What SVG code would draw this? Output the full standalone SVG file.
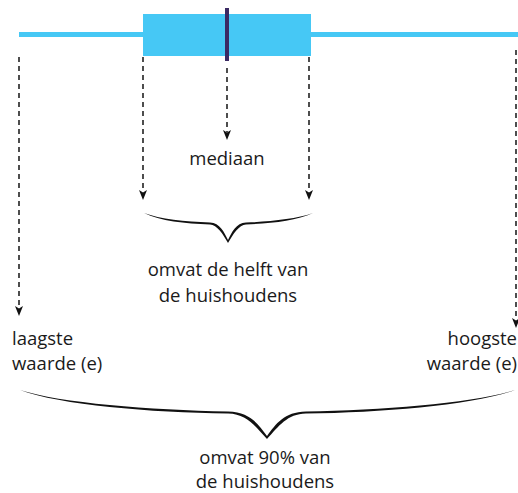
<svg xmlns="http://www.w3.org/2000/svg" width="518" height="493" viewBox="0 0 518 493">
<style>
.t{font-family:"Open Sans","Noto Sans",sans-serif;font-size:18.5px;fill:#1a1a1a}
.d{stroke:#222;stroke-width:1.6;stroke-dasharray:5 4;fill:none}
.ah{fill:#111}
.br{fill:#111}
</style>
<defs>
<path id="arr" d="M-4,-10 L0,-7.5 L4,-10 L0,0 Z"/>
</defs>
<g id="boxplot">
<rect x="19" y="32" width="499" height="5" fill="#46c8f5"/>
<rect x="143" y="14" width="168" height="42" fill="#46c8f5"/>
<rect x="225" y="8" width="4" height="53" fill="#3b2a63"/>
</g>
<g id="connectors">
<line class="d" x1="19" y1="57" x2="19" y2="308"/>
<use href="#arr" class="ah" x="19" y="316"/>
<line class="d" x1="227" y1="68" x2="227" y2="132"/>
<use href="#arr" class="ah" x="227" y="140"/>
<line class="d" x1="143" y1="57" x2="143" y2="192"/>
<use href="#arr" class="ah" x="143" y="200"/>
<line class="d" x1="309" y1="57" x2="309" y2="192"/>
<use href="#arr" class="ah" x="309" y="200"/>
<line class="d" x1="516" y1="50" x2="516" y2="320"/>
<use href="#arr" class="ah" x="516" y="328"/>
</g>
<g id="brace-half">
<path class="br" d="M144,213 C160,219 185,221.5 210,222.5 C220,223 224,232 228,240 C232,232 236,223 246,222.5 C271,221.5 296,219 313,213 C296,221 271,223.5 246,224.5 C239,225 233,234 228,243 C223,234 217,225 210,224.5 C185,223.5 160,221 144,213 Z"/>
</g>
<g id="brace-90">
<path class="br" d="M20,390 C60,403 150,410 228,411.5 C250,412 258,424 267,436 C276,424 284,412 306,411.5 C384,410 474,403 515,390 C474,405 384,412.5 306,413.5 C287,414 279,426 267,439 C255,426 247,414 228,413.5 C150,412.5 60,405 20,390 Z"/>
</g>
<g id="label-mediaan"><text class="t" x="227" y="165" text-anchor="middle">mediaan</text></g>
<g id="label-helft">
<text class="t" x="228" y="276" text-anchor="middle">omvat de helft van</text>
<text class="t" x="228" y="302" text-anchor="middle">de huishoudens</text>
</g>
<g id="label-laagste">
<text class="t" x="12" y="345">laagste</text>
<text class="t" x="12" y="370">waarde (e)</text>
</g>
<g id="label-hoogste">
<text class="t" x="517" y="345" text-anchor="end">hoogste</text>
<text class="t" x="517" y="370" text-anchor="end">waarde (e)</text>
</g>
<g id="label-90">
<text class="t" x="265" y="464" text-anchor="middle">omvat 90% van</text>
<text class="t" x="265" y="488" text-anchor="middle">de huishoudens</text>
</g>
</svg>
